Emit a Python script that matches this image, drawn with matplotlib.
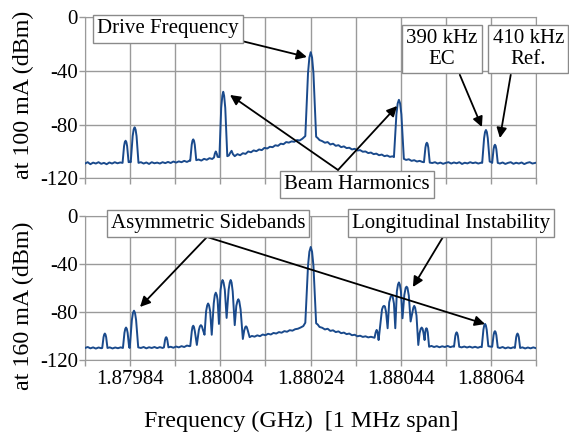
import numpy as np
import matplotlib
matplotlib.use("Agg")
import matplotlib.pyplot as plt

# left edge of the 1 MHz span, trace x values are kHz from this edge
start_ghz = 1.87974

# spectrum at 100 mA: (kHz from left edge, dBm)
top_trace = [
    (0, -109), (6, -108), (12, -109.5), (18, -108.3), (24, -109), (30, -108), (36, -109.2),
    (42, -108.5), (48, -109.5), (54, -108.2), (60, -109), (66, -108), (72, -108.8), (78, -108.2),
    (83.3, -108.5), (86.6, -96), (88.3, -93), (90, -92), (91.7, -93), (93.4, -96), (96.7, -108),
    (100, -107.5),
    (101.4, -108), (105.7, -88.5), (107.9, -83.6), (110, -82), (112.1, -83.6), (114.3, -88.5), (118.6, -108.5),
    (124, -108), (130, -109), (136, -108.2), (142, -109.3), (148, -108), (154, -108.8), (160, -108.3),
    (166, -109), (172, -108), (178, -108.7), (184, -107.8), (190, -108.6), (196, -107.5), (202, -108.3),
    (208, -107.4), (214, -108), (220, -107), (226, -107.8), (232, -106.8),
    (233.3, -107), (236.6, -95), (238.3, -92), (240, -91), (241.7, -92), (243.4, -95), (246.7, -106.5),
    (252, -106), (258, -106.8), (264, -105.5), (270, -106.2), (276, -105), (282, -105.6),
    (286, -104.5), (288, -101.5), (290, -100), (292, -101.5), (294, -104),
    (298, -104.2), (302, -67.5), (304.5, -58.5), (306.5, -55.5), (308.5, -58.5), (311, -67.5), (315.5, -103.5),
    (319, -103), (322, -101), (325, -99.5), (328, -102), (332, -103.5),
    (338, -102), (344, -102.8), (350, -101.3), (356, -101.8), (362, -100), (368, -100.6), (374, -99.2),
    (380, -99.8), (386, -98.5), (392, -99), (398, -97.3), (404, -97.8), (410, -96.5), (416, -96.8),
    (422, -95.4), (428, -95.8), (434, -94.2), (440, -94.6), (446, -93), (452, -93.4), (458, -92.5),
    (464, -92.8), (470, -91.5), (476, -91.8), (482, -90.5),
    (488.5, -88.5), (494.5, -41.5), (497.5, -30), (500.5, -26), (503.5, -30), (506.5, -41.5), (512.5, -89),
    (516, -90), (520, -91.5), (526, -92.3), (532, -93.5), (538, -93), (544, -94.8), (550, -94.2),
    (556, -95.8), (562, -95.3), (568, -96.8), (574, -96.2), (580, -97.5), (586, -97.2), (592, -98.5),
    (598, -98), (604, -99.3), (610, -99), (616, -100.2), (622, -100), (628, -101.2), (634, -100.8),
    (640, -102), (646, -101.6), (652, -102.8), (658, -102.3), (664, -103.5), (670, -103), (676, -104),
    (682, -103.6),
    (685, -104.2), (690.5, -72.3), (693.3, -64.2), (696, -61.5), (698.7, -64.2), (701.5, -72.3), (707, -105.5),
    (712, -106.3), (718, -105.8), (724, -107), (730, -106.5), (736, -107.5), (742, -107), (748, -107.8),
    (751.6, -108), (754.8, -97.1), (756.4, -94.4), (758, -93.5), (759.6, -94.4), (761.2, -97.1), (764.4, -108.3),
    (770, -108.6), (776, -108), (782, -109), (788, -108.3), (794, -109.2), (800, -108.5), (806, -108),
    (812, -109), (818, -108.2), (824, -108.8), (830, -108), (836, -109.3), (842, -108.4), (848, -108.9),
    (854, -108), (860, -108.7), (866, -108.2), (872, -109), (878, -108.4),
    (880.7, -108.5), (884.9, -90.1), (887, -85.5), (889, -84), (891, -85.5), (893.1, -90.1), (897.3, -107.5),
    (900, -107.8),
    (902.8, -108.5), (905.9, -98.4), (907.5, -95.8), (909, -95), (910.5, -95.8), (912.1, -98.4), (915.2, -108.5),
    (920, -109), (926, -108.2), (932, -109.3), (938, -108.5), (944, -108), (950, -109.2), (956, -108.4),
    (962, -109), (968, -108.2), (974, -109.4), (980, -108.5), (986, -108), (992, -109), (1000, -108.4),
]

# spectrum at 160 mA: (kHz from left edge, dBm)
bottom_trace = [
    (0, -110), (6, -109.2), (12, -110.3), (18, -109.5), (24, -110.5), (30, -109.6), (36, -110.2),
    (38.2, -110), (41.1, -101), (42.6, -98.8), (44, -98), (45.4, -98.8), (46.9, -101), (49.8, -110),
    (55, -109.5), (61, -110.4), (67, -109.6), (73, -110.2), (79, -109.5),
    (84.1, -110), (87.5, -97.3), (89.3, -94.1), (91, -93), (92.7, -94.1), (94.5, -97.3), (97.9, -109.5),
    (99.2, -110), (103.9, -86.8), (106.3, -80.9), (108.6, -79), (110.9, -80.9), (113.3, -86.8), (118, -109.5),
    (124, -110), (130, -109.2), (136, -110.3), (142, -109.4), (148, -110), (154, -109.2), (160, -110.1),
    (166, -109.3), (172, -110),
    (175, -109.5), (177.5, -103.3), (178.8, -101.6), (180, -101), (181.2, -101.6), (182.5, -103.3), (185, -109.5),
    (190, -109), (196, -109.8), (202, -108.8), (208, -109.5), (214, -108.5), (220, -109.2), (226, -108),
    (232, -108.5),
    (233.5, -108.3), (236.8, -96), (238.4, -92.5), (240, -91.5), (241.6, -92.5), (243.5, -96), (248, -107.5),
    (252.5, -95), (254.8, -92), (257, -91), (259.2, -92), (261.5, -95), (265, -99),
    (268.5, -79.5), (271, -74.5), (273, -73), (275, -74.5), (277.5, -79.5), (281, -99),
    (285.5, -72.8), (287.8, -66), (290, -64), (292.2, -66), (294, -70), (297, -90),
    (300.5, -62), (303, -55.5), (305, -53.5), (307.2, -55.5), (310, -61.5), (314, -85),
    (318.5, -61.5), (321, -55.5), (323, -53.5), (325, -55.5), (327.5, -63), (332, -91),
    (335.5, -75), (338, -71), (340, -69.5), (342, -71), (345, -78), (350, -102.5),
    (353, -95.5), (355.3, -92.7), (357, -92), (358.7, -92.7), (361, -95.5), (365, -101),
    (370, -100), (376, -100.6), (382, -99.5), (388, -100.2), (394, -98.8), (400, -99.4), (406, -98.2),
    (412, -98.8), (418, -97.5), (424, -98), (430, -96.8), (436, -97.3), (442, -96), (448, -96.5),
    (454, -95.2), (460, -95.6), (466, -94.4), (472, -94), (478, -93), (484, -91.8),
    (488.5, -89), (494.5, -41.5), (497.5, -30), (500.5, -26), (503.5, -30), (506.5, -41.5), (512.5, -89.5),
    (516, -90.5), (520, -92.5), (526, -93.2), (532, -94.6), (538, -94), (544, -95.8), (550, -95.3),
    (556, -96.8), (562, -96.2), (568, -97.7), (574, -97.2), (580, -98.5), (586, -98), (592, -99.4),
    (598, -99), (604, -100.3), (610, -99.8), (616, -100.8), (622, -100.3), (628, -101.2), (634, -100.7),
    (640, -101.3),
    (642, -101.5), (644.5, -97), (646.7, -95), (648.8, -97), (651, -103.4),
    (655, -90), (658.5, -78), (661, -75.5), (663, -75), (665, -75.5), (667.5, -80), (671, -93.6),
    (674.5, -72), (677.8, -67.3), (680, -66.5), (682.2, -67.3), (685, -73), (688, -93.6),
    (691.5, -63), (694, -57.2), (696, -55.5), (698, -57.2), (700.5, -63), (704, -85.3),
    (708, -66), (711, -60), (713, -59), (715, -60), (718, -66.5), (722, -88),
    (725.5, -81), (728, -76.5), (730, -75), (732, -76.5), (735, -83), (739, -107.5),
    (742, -97.5), (744.5, -94), (746.5, -93), (748.5, -94), (750.5, -97.5), (753, -103.4),
    (754.8, -96), (756, -94), (757, -93.6), (758.2, -94), (760, -97), (763, -109),
    (768, -108.3), (774, -109.2), (780, -108.5), (786, -109.4), (792, -108.6), (798, -109.2),
    (804, -108.3), (810, -109.3), (816, -108.6),
    (818.2, -109), (821.1, -100), (822.6, -97.8), (824, -97), (825.4, -97.8), (826.9, -100), (829.8, -109),
    (835, -109.5), (841, -108.8), (847, -109.6), (853, -108.9), (859, -109.7), (865, -109), (871, -109.8),
    (877, -109),
    (879.7, -109.3), (883.4, -94.8), (885.2, -91.2), (887, -90), (888.8, -91.2), (890.7, -94.8), (894.3, -108.5),
    (898, -108.8),
    (902.8, -109), (905.9, -99.4), (907.5, -96.8), (909, -96), (910.5, -96.8), (912.1, -99.4), (915.2, -109.5),
    (920, -110), (926, -109.2), (932, -110.3), (938, -109.5), (944, -110.2), (950, -109.4),
    (953.2, -110), (956.1, -101), (957.6, -98.8), (959, -98), (960.4, -98.8), (961.9, -101), (964.8, -110),
    (970, -109.5), (976, -110.4), (982, -109.6), (988, -110.3), (994, -109.5), (1000, -110.2),
]

y_ticks = [0, -40, -80, -120]
y_tick_labels = ["0", "-40", "-80", "-120"]
grid_khz = [0, 100, 200, 300, 400, 500, 600, 700, 800, 900, 1000]
x_tick_labels = ["", "1.87984", "", "1.88004", "", "1.88024", "", "1.88044", "", "1.88064", ""]

plt.rcParams["font.family"] = ["Liberation Serif", "DejaVu Serif"]
plt.rcParams["axes.unicode_minus"] = False

LINE = "#1a4a8c"
GRID = "#9a9a9a"


def ghz(khz):
    return start_ghz + np.asarray(khz, dtype=float) / 1e6


def style_axes(ax, ylabel, label_y):
    ax.set_xlim(ghz(0), ghz(1000))
    ax.set_ylim(-120, 0)
    ax.set_xticks(ghz(grid_khz))
    ax.set_yticks(y_ticks)
    ax.set_yticklabels(y_tick_labels)
    ax.grid(True, color=GRID, lw=1)
    ax.set_axisbelow(True)
    for sp in ax.spines.values():
        sp.set_color(GRID)
    ax.tick_params(color=GRID, length=4, width=1, labelsize=15)
    ax.tick_params(axis="y", pad=1)
    ax.tick_params(axis="x", pad=3)
    ax.set_ylabel(ylabel, fontsize=17.3)
    ax.yaxis.set_label_coords(-0.113, label_y)


def text_box(ax, x, y, s):
    ax.text(ghz(x), y, s, ha="center", va="center", fontsize=15, linespacing=1.12,
            bbox=dict(boxstyle="square,pad=0.2", fc="white", ec="#8a8a8a", lw=1),
            zorder=6, clip_on=False)


def arrow(ax, start, tip):
    ax.annotate("", xy=(ghz(tip[0]), tip[1]), xytext=(ghz(start[0]), start[1]),
                arrowprops=dict(arrowstyle="-|>", color="black", lw=1.3,
                                shrinkA=0, shrinkB=0, mutation_scale=15),
                annotation_clip=False, zorder=5)


fig = plt.figure(figsize=(5.69, 4.32), dpi=100)
ax_top = fig.add_axes([85 / 569, 1 - 178.3 / 432, 451 / 569, 161 / 432])
ax_bot = fig.add_axes([85 / 569, 1 - 360 / 432, 451 / 569, 144.3 / 432])

top_khz, top_dbm = np.array(top_trace).T
bot_khz, bot_dbm = np.array(bottom_trace).T

ax_top.plot(ghz(top_khz), top_dbm, color=LINE, lw=1.4, zorder=3)
ax_bot.plot(ghz(bot_khz), bot_dbm, color=LINE, lw=1.4, zorder=3)

style_axes(ax_top, "at 100 mA (dBm)", 0.517)
style_axes(ax_bot, "at 160 mA (dBm)", 0.378)
ax_top.set_xticklabels([])
ax_bot.set_xticklabels(x_tick_labels)

# top panel annotations
text_box(ax_top, 183, -8.7, "Drive Frequency")
arrow(ax_top, (348, -17.7), (492, -29.6))
text_box(ax_top, 791.6, -23.6, "390 kHz\nEC")
arrow(ax_top, (831, -42.8), (880, -81.8))
text_box(ax_top, 983, -23.6, "410 kHz\nRef.")
arrow(ax_top, (944, -42.8), (920, -90))
text_box(ax_top, 603, -124.6, "Beam Harmonics")
arrow(ax_top, (561, -113.8), (321.5, -57.9))
arrow(ax_top, (561, -113.8), (692, -66.1))

# bottom panel annotations
text_box(ax_bot, 272.7, -6.5, "Asymmetric Sidebands")
arrow(ax_bot, (270.5, -17.7), (122, -75.9))
arrow(ax_bot, (270.5, -17.7), (887, -90.1))
text_box(ax_bot, 811.5, -6.1, "Longitudinal Instability")
arrow(ax_bot, (793.8, -17.7), (727, -59.3))

fig.text(301 / 569, 4.5 / 432, "Frequency (GHz)  [1 MHz span]", ha="center", va="baseline", fontsize=17.3)

fig.savefig("out.png", dpi=100)
